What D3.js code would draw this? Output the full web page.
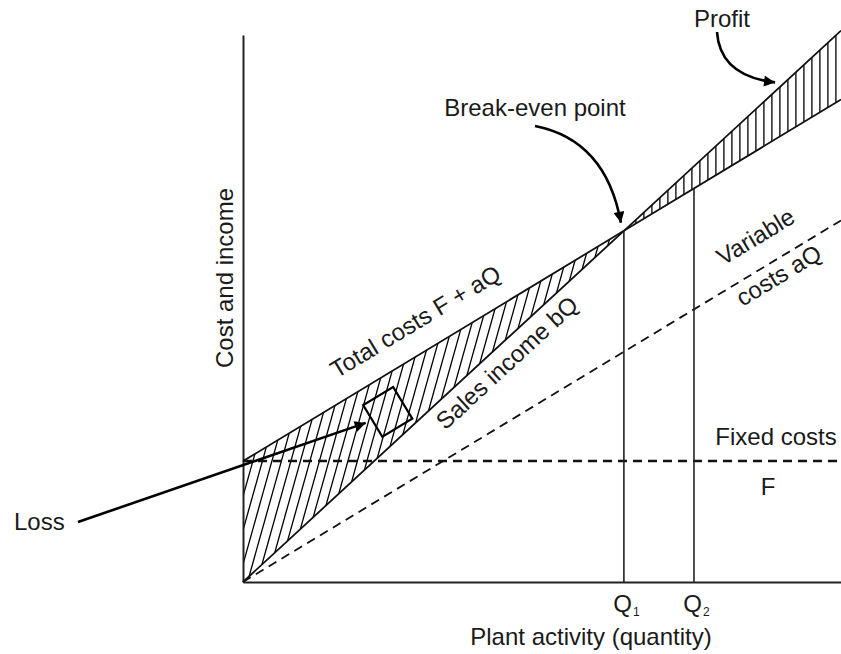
<!DOCTYPE html>
<html>
<head>
<meta charset="utf-8">
<script src="https://cdn.jsdelivr.net/npm/d3@7"></script>
<style>
  html, body { margin: 0; padding: 0; background: #fff; }
  svg { display: block; }
  text { font-family: "Liberation Sans", Arial, Helvetica, sans-serif; fill: #1a1a1a; }
</style>
</head>
<body>
<svg id="chart" width="841" height="654"></svg>
<script>
// ---- data ----
const quantity      = [0, 10, 15.7];          // plant activity Q
const salesIncome   = [0, 64.2, 100.8];       // bQ
const totalCosts    = [22.1, 64.2, 88.2];     // F + aQ
const variableCosts = [0, 42.1, 66.1];        // aQ
const fixedCosts    = [22.1, 22.1, 22.1];     // F
const qMarks        = [10, 11.84];            // Q1 (break-even), Q2
const qLabels       = ["Q", "Q"];
const qSubs         = ["1", "2"];
const yMax          = 100;

// ---- layout ----
const W = 841, H = 654;
const x = d3.scaleLinear().domain([0, d3.max(quantity)]).range([243, 841]);
const y = d3.scaleLinear().domain([0, yMax]).range([582, 35]);
const svg = d3.select("#chart");
const FONT = 24;

const defs = svg.append("defs");
defs.append("marker")
  .attr("id", "arrow").attr("viewBox", "0 0 10 10")
  .attr("refX", 10).attr("refY", 5)
  .attr("markerWidth", 15).attr("markerHeight", 11)
  .attr("markerUnits", "userSpaceOnUse").attr("orient", "auto")
  .append("path").attr("d", "M0,0 L10,5 L0,10 Z").attr("fill", "#000");

const pts = (xs, ys) => xs.map((q, i) => [x(q), y(ys[i])]);
const sales = pts(quantity, salesIncome);
const total = pts(quantity, totalCosts);
const variable = pts(quantity, variableCosts);
const fixed = pts(quantity, fixedCosts);

// Polygons for hatched regions
const lossPoly = [total[0], total[1], sales[0]];
const profitPoly = [sales[1], sales[2], total[2]];
defs.append("clipPath").attr("id", "lossClip")
  .append("polygon").attr("points", lossPoly.map(p => p.join(",")).join(" "));
defs.append("clipPath").attr("id", "profitClip")
  .append("polygon").attr("points", profitPoly.map(p => p.join(",")).join(" "));

// Loss hatching (steep "/")
const lossG = svg.append("g").attr("clip-path", "url(#lossClip)");
const slant = 0.28;
d3.range(x(0) - 200, x(qMarks[0]) + 10, 9.5).forEach(px => {
  lossG.append("line")
    .attr("x1", px).attr("y1", 600)
    .attr("x2", px + slant * 600).attr("y2", 0)
    .attr("stroke", "#000").attr("stroke-width", 1.3);
});
// Profit hatching (vertical)
const profG = svg.append("g").attr("clip-path", "url(#profitClip)");
d3.range(x(qMarks[0]) + 4, W, 8).forEach(px => {
  profG.append("line")
    .attr("x1", px).attr("y1", 0).attr("x2", px).attr("y2", 600)
    .attr("stroke", "#000").attr("stroke-width", 1.3);
});

// Axes (no ticks except Q1/Q2 labels)
const xAxis = d3.axisBottom(x).tickValues(qMarks).tickSize(0).tickSizeOuter(0)
  .tickPadding(0).tickFormat("");
const gx = svg.append("g").attr("transform", `translate(0,${y(0)})`).call(xAxis);
gx.select(".domain").attr("stroke", "#222").attr("stroke-width", 2);
gx.selectAll(".tick").each(function(d, i) {
  const t = d3.select(this).append("text")
    .attr("y", 30).attr("x", 2).attr("text-anchor", "middle")
    .attr("font-size", FONT).attr("fill", "#1a1a1a");
  t.append("tspan").text(qLabels[i]);
  t.append("tspan").attr("font-size", 12).attr("dy", 4).attr("dx", 1).text(qSubs[i]);
});
const yAxis = d3.axisLeft(y).tickValues([]).tickSize(0).tickSizeOuter(0);
const gy = svg.append("g").attr("transform", `translate(${x(0)},0)`).call(yAxis);
gy.select(".domain").attr("stroke", "#222").attr("stroke-width", 2);

const line = d3.line();
// Fixed costs (dashed)
svg.append("path").attr("d", line(fixed)).attr("fill", "none")
  .attr("stroke", "#111").attr("stroke-width", 2.5).attr("stroke-dasharray", "9,6");
// Variable costs (dashed)
svg.append("path").attr("d", line(variable)).attr("fill", "none")
  .attr("stroke", "#111").attr("stroke-width", 1.8).attr("stroke-dasharray", "9,6");
// Sales income
svg.append("path").attr("d", line(sales)).attr("fill", "none")
  .attr("stroke", "#111").attr("stroke-width", 1.8);
// Total costs
svg.append("path").attr("d", line(total)).attr("fill", "none")
  .attr("stroke", "#111").attr("stroke-width", 1.8);

// Q1 / Q2 verticals
const totalAt = d3.scaleLinear().domain(quantity).range(totalCosts);
qMarks.forEach(q => {
  svg.append("line")
    .attr("x1", x(q)).attr("x2", x(q))
    .attr("y1", y(totalAt(q))).attr("y2", y(0))
    .attr("stroke", "#222").attr("stroke-width", 1.6);
});

// Labels along lines
function lineLabel(xs, ys, q, d, lines) {
  const f = d3.scaleLinear().domain(xs).range(ys);
  const p0 = [x(q), y(f(q))];
  const q2 = q + 1;
  const p1 = [x(q2), y(f(q2))];
  const ang = Math.atan2(p1[1] - p0[1], p1[0] - p0[0]) * 180 / Math.PI;
  svg.append("text")
    .attr("transform", `translate(${p0[0]},${p0[1]}) rotate(${ang}) translate(0,${-d})`)
    .attr("font-size", FONT).text(lines);
}
lineLabel(quantity, totalCosts, 2.76, 22, "Total costs F + aQ");
lineLabel(quantity, salesIncome, 4.85, -26, "Sales income bQ");
lineLabel(quantity, variableCosts, 12.9, 22, "Variable");
lineLabel(quantity, variableCosts, 12.8, -23, "costs aQ");

// Fixed costs labels
svg.append("text").attr("x", 776).attr("y", y(fixedCosts[0]) - 16)
  .attr("text-anchor", "middle").attr("font-size", FONT).text("Fixed costs");
svg.append("text").attr("x", 768).attr("y", y(fixedCosts[0]) + 34)
  .attr("text-anchor", "middle").attr("font-size", FONT).text("F");

// Axis titles
svg.append("text").attr("x", 591).attr("y", 645).attr("text-anchor", "middle")
  .attr("font-size", FONT).text("Plant activity (quantity)");
svg.append("text").attr("transform", `translate(233,278) rotate(-90)`)
  .attr("text-anchor", "middle").attr("font-size", FONT).text("Cost and income");

// Loss annotation: small box + arrow
const boxC = [x(3.8), y(31.1)];
const totAng = Math.atan2(total[1][1] - total[0][1], total[1][0] - total[0][0]) * 180 / Math.PI;
svg.append("rect")
  .attr("transform", `translate(${boxC[0]},${boxC[1]}) rotate(${totAng})`)
  .attr("x", -17.5).attr("y", -18.5).attr("width", 35).attr("height", 37)
  .attr("fill", "none").attr("stroke", "#000").attr("stroke-width", 2.2);
svg.append("text").attr("x", 14).attr("y", 530).attr("font-size", FONT).text("Loss");
svg.append("line")
  .attr("x1", 78).attr("y1", 522)
  .attr("x2", boxC[0] - 22).attr("y2", boxC[1] + 11)
  .attr("stroke", "#000").attr("stroke-width", 2.6).attr("marker-end", "url(#arrow)");

// Break-even annotation
const be = [x(qMarks[0]), y(totalAt(qMarks[0]))];
svg.append("text").attr("x", 535).attr("y", 116).attr("text-anchor", "middle")
  .attr("font-size", FONT).text("Break-even point");
svg.append("path")
  .attr("d", `M535,126 Q606,140 ${be[0] - 3},${be[1] - 8}`)
  .attr("fill", "none").attr("stroke", "#000").attr("stroke-width", 2.6)
  .attr("marker-end", "url(#arrow)");

// Profit annotation
svg.append("text").attr("x", 722).attr("y", 27).attr("text-anchor", "middle")
  .attr("font-size", FONT).text("Profit");
const salesAt = d3.scaleLinear().domain(quantity).range(salesIncome);
const pTip = [x(13.97), y(salesAt(13.97)) - 9];
svg.append("path")
  .attr("d", `M717,32 Q720,76 ${pTip[0]},${pTip[1]}`)
  .attr("fill", "none").attr("stroke", "#000").attr("stroke-width", 2.6)
  .attr("marker-end", "url(#arrow)");
</script>
</body>
</html>
